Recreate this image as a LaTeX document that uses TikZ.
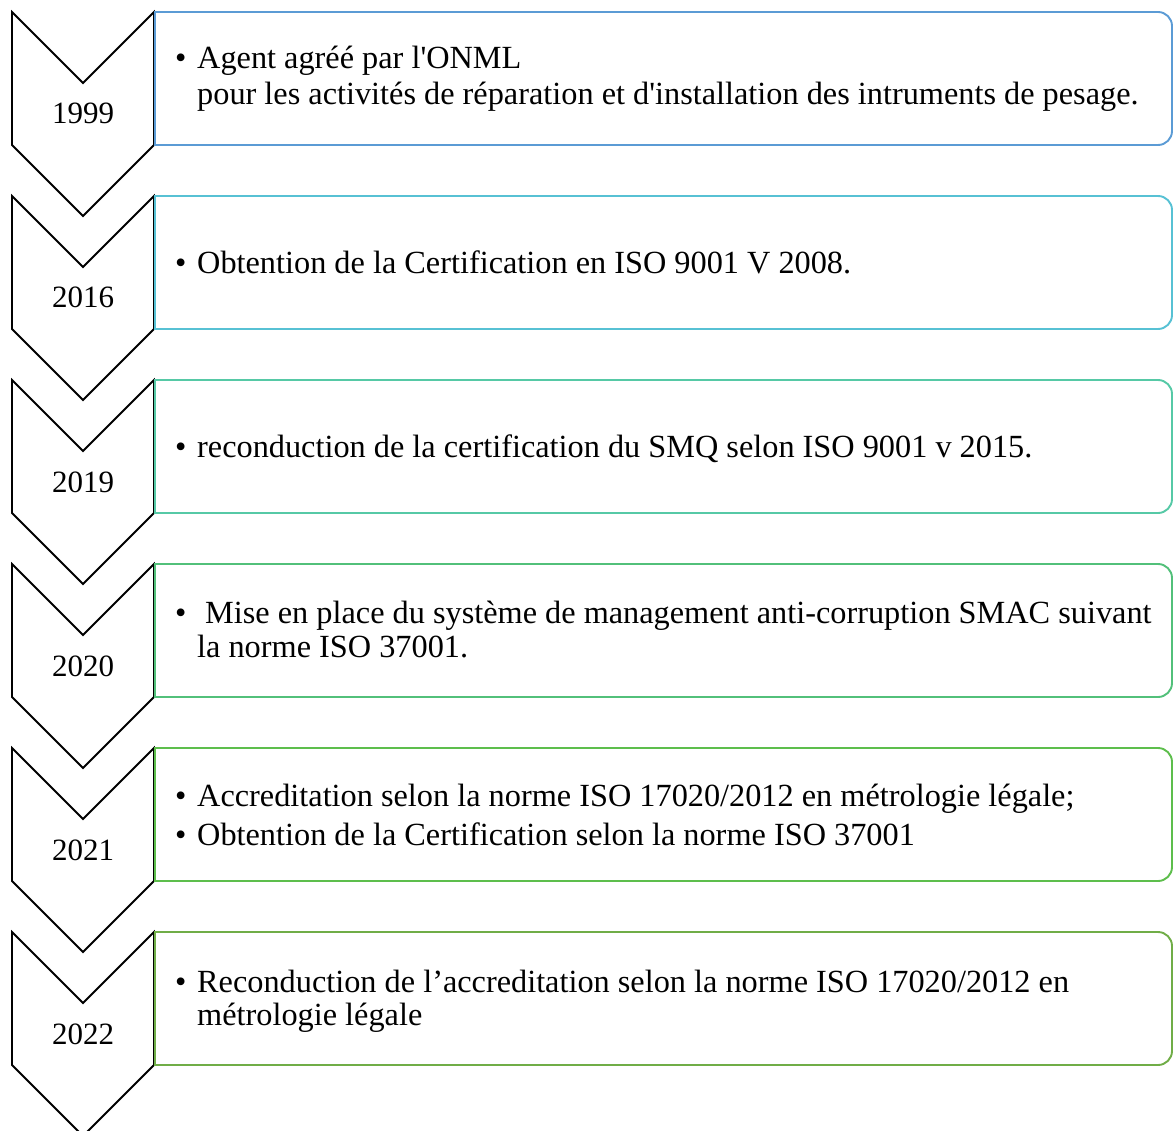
\documentclass[tikz,border=0pt]{standalone}
\usepackage{fontspec}
\setmainfont{Liberation Serif}
\definecolor{cA}{HTML}{5B9BD5}
\definecolor{cB}{HTML}{57C1D4}
\definecolor{cC}{HTML}{56C9A6}
\definecolor{cD}{HTML}{52C07A}
\definecolor{cE}{HTML}{5DBE4C}
\definecolor{cF}{HTML}{70AD47}
\tikzset{
  chev/.style={draw=black, line width=1.8pt, line join=miter},
  stagebox/.style={line width=1.9pt},
  yr/.style={anchor=base, inner sep=0pt, font=\fontsize{31}{36}\selectfont},
  txt/.style={anchor=base west, inner sep=0pt, font=\fontsize{32.3}{36}\selectfont},
}
% one stage: chevron with its year, and the framed box beside it
% #1 id, #2 top edge, #3 year, #4 frame colour
\newcommand\yearstage[4]{%
  \draw[chev] (12,#2) -- (83,#2+71) -- (154,#2) -- (154,#2+133)
              -- (83,#2+204) -- (12,#2+133) -- cycle;
  \node[yr] (year#1) at (83,#2+112) {#3};
  \draw[stagebox, draw=#4] (155,#2+133) -- (155,#2) -- (1158,#2)
      arc[start angle=-90, end angle=0, radius=14] -- (1172,#2+119)
      arc[start angle=0, end angle=90, radius=14] -- cycle;
}
\begin{document}
\begin{tikzpicture}[x=1pt, y=-1pt]
\useasboundingbox (0,0) rectangle (1174,1131);
\clip (0,0) rectangle (1174,1131);

\yearstage{a}{12}{1999}{cA}
\yearstage{b}{196}{2016}{cB}
\yearstage{c}{380}{2019}{cC}
\yearstage{d}{564}{2020}{cD}
\yearstage{e}{748}{2021}{cE}
\yearstage{f}{932}{2022}{cF}

% 1999
\node[txt] (ba1) at (175,69) {\textbullet};
\node[txt] (ta1) at (197,69) {Agent agréé par l\textquotesingle ONML};
\node[txt] (ta2) at (197,105) {pour les activités de réparation et d\textquotesingle installation des intruments de pesage.};
% 2016
\node[txt] (bb1) at (175,274) {\textbullet};
\node[txt] (tb1) at (197,274) {Obtention de la Certification en ISO 9001 V 2008.};
% 2019
\node[txt] (bc1) at (175,457) {\textbullet};
\node[txt] (tc1) at (197,457) {reconduction de la certification du SMQ selon ISO 9001 v 2015.};
% 2020
\node[txt] (bd1) at (175,623) {\textbullet};
\node[txt] (td1) at (205,623) {Mise en place du système de management anti-corruption SMAC suivant};
\node[txt] (td2) at (197,657) {la norme ISO 37001.};
% 2021
\node[txt] (be1) at (175,806) {\textbullet};
\node[txt] (te1) at (197,806) {Accreditation selon la norme ISO 17020/2012 en métrologie légale;};
\node[txt] (be2) at (175,845) {\textbullet};
\node[txt] (te2) at (197,845) {Obtention de la Certification selon la norme ISO 37001};
% 2022
\node[txt] (bf1) at (175,992) {\textbullet};
\node[txt] (tf1) at (197,992) {Reconduction de l’accreditation selon la norme ISO 17020/2012 en};
\node[txt] (tf2) at (197,1025) {métrologie légale};
\end{tikzpicture}
\end{document}
